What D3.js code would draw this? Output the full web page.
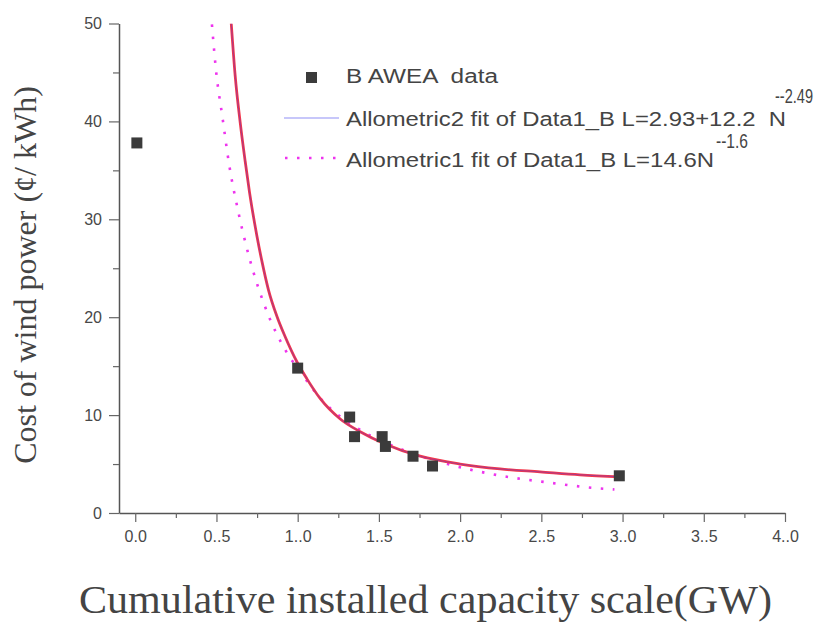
<!DOCTYPE html>
<html lang="en">
<head>
<meta charset="utf-8">
<title>Cost of wind power</title>
<script src="https://d3js.org/d3.v7.min.js"></script>
<style>
  body { margin: 0; background: #fff; }
  svg { display: block; }
  .tick-label { font-family: "Liberation Sans", Arial, sans-serif; font-size: 16px; fill: #484848; }
  .legend { font-family: "Liberation Sans", Arial, sans-serif; font-size: 20px; fill: #444; }
  .title { font-family: "Liberation Serif", "Times New Roman", serif; fill: #444; }
</style>
</head>
<body>
<div id="chart"></div>
<script>
// measured data (AWEA)
var dataX = [0.01, 1.0, 1.32, 1.35, 1.52, 1.54, 1.71, 1.83, 2.98];
var dataY = [37.8, 14.8, 9.8, 7.8, 7.8, 6.8, 5.8, 4.8, 3.8];

// Allometric2 fit, points
var fit2X = [0.591, 0.615, 0.646, 0.677, 0.704, 0.749, 0.780, 0.820, 0.872, 0.923, 0.995, 1.057, 1.138, 1.262, 1.385, 1.538, 1.754, 2.0, 2.246, 2.492, 2.738, 2.985];
var fit2Y = [50.0, 44.7, 39.9, 35.9, 32.7, 28.3, 25.7, 22.8, 20.1, 18.0, 15.45, 13.7, 11.7, 9.6, 8.3, 7.05, 5.8, 5.0, 4.5, 4.2, 3.9, 3.7];

// Allometric1 fit, points
var fit1X = [0.472, 0.498, 0.537, 0.578, 0.634, 0.702, 0.794, 0.929, 1.026, 1.138, 1.374, 1.610, 1.924, 2.236, 2.550, 2.862, 2.950];
var fit1Y = [49.9, 45.1, 40.4, 35.6, 30.8, 26.1, 21.3, 16.5, 14.2, 11.75, 8.6, 6.7, 5.0, 3.85, 3.1, 2.5, 2.4];

var xTicks = [0, 0.5, 1, 1.5, 2, 2.5, 3, 3.5, 4];
var xTickLabels = ["0.0", "0..5", "1..0", "1..5", "2..0", "2..5", "3..0", "3..5", "4..0"];
var xMinor = [0.25, 0.75, 1.25, 1.75, 2.25, 2.75, 3.25, 3.75];
var yTicks = [0, 10, 20, 30, 40, 50];
var yMinor = [5, 15, 25, 35, 45];

var width = 820, height = 626;
var svg = d3.select("#chart").append("svg")
  .attr("width", width)
  .attr("height", height);

var x = d3.scaleLinear().domain([-0.1, 4]).range([119, 785]);
var y = d3.scaleLinear().domain([0, 50]).range([513, 23.5]);

svg.append("clipPath").attr("id", "plot")
  .append("rect")
  .attr("x", x(-0.1)).attr("y", y(50))
  .attr("width", x(4) - x(-0.1)).attr("height", y(0) - y(50));

// axes
var xAxis = svg.append("g").attr("transform", "translate(0," + y(0) + ")");
xAxis.call(d3.axisBottom(x).tickValues(xTicks).tickSize(9).tickSizeOuter(0)
  .tickFormat(function(d, i) { return xTickLabels[i]; }));
xAxis.append("g").call(d3.axisBottom(x).tickValues(xMinor).tickSize(5).tickFormat(""))
  .select(".domain").remove();

var yAxis = svg.append("g").attr("transform", "translate(" + x(-0.1) + ",0)");
yAxis.call(d3.axisLeft(y).tickValues(yTicks).tickSize(10).tickSizeOuter(0).tickPadding(7));
yAxis.append("g").call(d3.axisLeft(y).tickValues(yMinor).tickSize(6).tickFormat(""))
  .select(".domain").remove();

svg.selectAll(".domain").attr("stroke", "#555").attr("stroke-width", 1.5);
svg.selectAll(".tick line").attr("stroke", "#666").attr("stroke-width", 1.2);
svg.selectAll(".tick text").attr("class", "tick-label").attr("font-size", null).attr("font-family", null).attr("fill", null);
xAxis.selectAll(".tick text").attr("dy", "1.05em");

// curves
var plot = svg.append("g").attr("clip-path", "url(#plot)");

var line = d3.line().curve(d3.curveMonotoneX)
  .x(function(d) { return x(d[0]); })
  .y(function(d) { return y(d[1]); });

var fit1 = d3.zip(fit1X, fit1Y);
var fit2 = d3.zip(fit2X, fit2Y);

plot.append("path").datum(fit1)
  .attr("d", line)
  .attr("fill", "none")
  .attr("stroke", "#ee33ee")
  .attr("stroke-width", 2.6)
  .attr("stroke-dasharray", "2.5,9.5");

plot.append("path").datum(fit2)
  .attr("d", line)
  .attr("fill", "none")
  .attr("stroke", "#f4374a")
  .attr("stroke-width", 2.8);

plot.append("path").datum(fit2)
  .attr("d", line)
  .attr("fill", "none")
  .attr("stroke", "#4b3cd8")
  .attr("stroke-opacity", 0.5)
  .attr("stroke-width", 0.9);

// data squares
var sq = 11;
svg.selectAll(".pt")
  .data(d3.zip(dataX, dataY))
  .enter()
  .append("rect")
  .attr("class", "pt")
  .attr("x", function(d) { return x(d[0]) - sq / 2; })
  .attr("y", function(d) { return y(d[1]) - sq / 2; })
  .attr("width", sq)
  .attr("height", sq)
  .attr("fill", "#3b3b3b");

// legend
var lg = svg.append("g");
lg.append("rect").attr("x", 306).attr("y", 72).attr("width", 11).attr("height", 11).attr("fill", "#3b3b3b");
lg.append("text").attr("class", "legend").attr("x", 346).attr("y", 83)
  .attr("textLength", 152).attr("lengthAdjust", "spacingAndGlyphs")
  .attr("xml:space", "preserve").text("B AWEA  data");

lg.append("line").attr("x1", 284).attr("x2", 339).attr("y1", 118).attr("y2", 118)
  .attr("stroke", "#8f8ff5").attr("stroke-width", 1.2);
lg.append("text").attr("class", "legend").attr("x", 346).attr("y", 126)
  .attr("textLength", 440).attr("lengthAdjust", "spacingAndGlyphs")
  .attr("xml:space", "preserve").text("Allometric2 fit of Data1_B L=2.93+12.2  N");
lg.append("text").attr("class", "legend").attr("x", 775).attr("y", 103)
  .attr("font-size", 14).attr("textLength", 38).attr("lengthAdjust", "spacingAndGlyphs")
  .text("--2.49");

lg.append("line").attr("x1", 285).attr("x2", 340).attr("y1", 158).attr("y2", 158)
  .attr("stroke", "#ee33ee").attr("stroke-width", 2.6).attr("stroke-dasharray", "2.5,9.5");
lg.append("text").attr("class", "legend").attr("x", 346).attr("y", 167)
  .attr("textLength", 368).attr("lengthAdjust", "spacingAndGlyphs")
  .text("Allometric1 fit of Data1_B L=14.6N");
lg.append("text").attr("class", "legend").attr("x", 716).attr("y", 148)
  .attr("font-size", 14).attr("textLength", 32).attr("lengthAdjust", "spacingAndGlyphs")
  .text("--1.6");

// axis titles
svg.append("text").attr("class", "title")
  .attr("x", 79).attr("y", 613)
  .attr("font-size", 41)
  .attr("textLength", 693).attr("lengthAdjust", "spacingAndGlyphs")
  .text("Cumulative installed capacity scale(GW)");

svg.append("text").attr("class", "title")
  .attr("transform", "translate(36,275) rotate(-90)")
  .attr("text-anchor", "middle")
  .attr("font-size", 32)
  .text("Cost of wind power (\u00a2/ kWh)");
</script>
</body>
</html>
